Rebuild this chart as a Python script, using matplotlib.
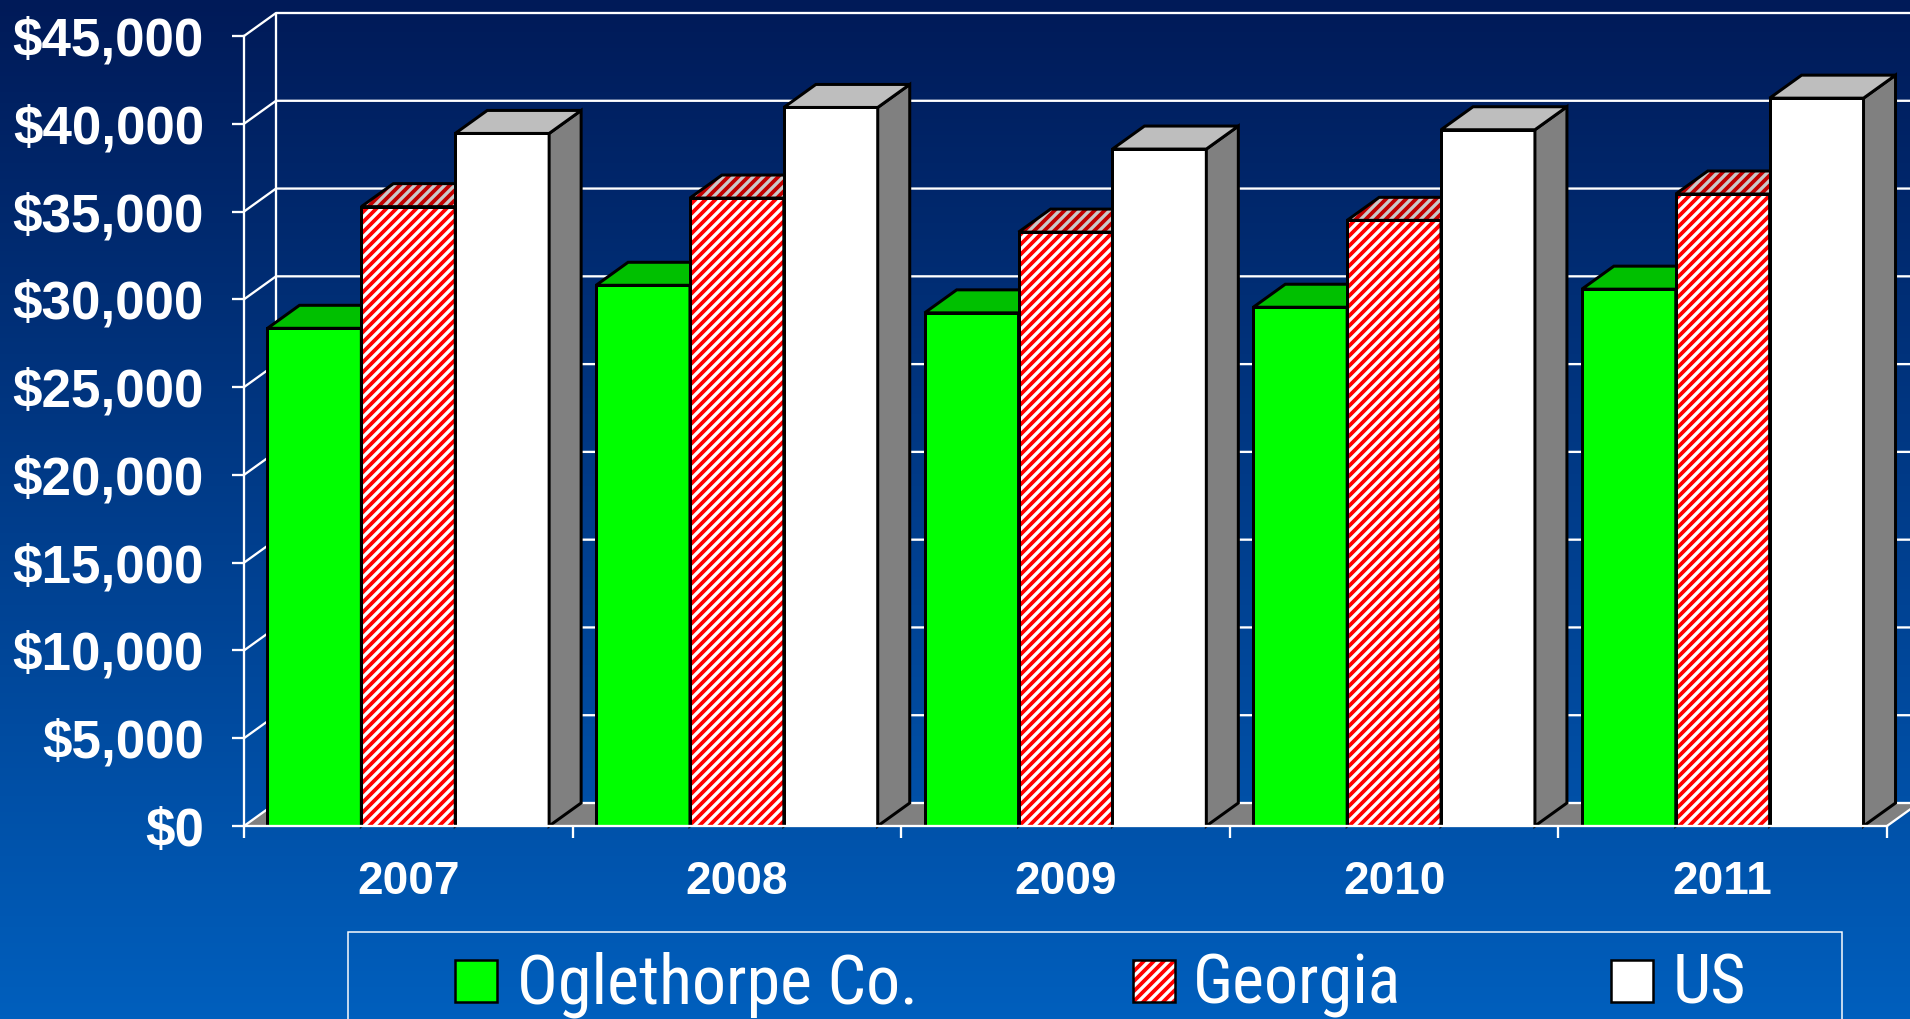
import matplotlib.pyplot as plt
import numpy as np
from matplotlib.patches import Polygon, Rectangle
from matplotlib.colors import LinearSegmentedColormap
from matplotlib.ticker import FuncFormatter
from matplotlib.font_manager import FontProperties, fontManager

# Per-capita income
years = ['2007', '2008', '2009', '2010', '2011']
series = ['Oglethorpe Co.', 'Georgia', 'US']
oglethorpe = [28350, 30800, 29230, 29550, 30580]
georgia = [35280, 35770, 33830, 34500, 36000]
us = [39450, 40930, 38560, 39660, 41460]
y_ticks = list(range(0, 45001, 5000))

W, H, DPI = 1910, 1019, 120
HATCH = '////'


def pt(px):
    # pixel size -> points at this dpi
    return px * 72 / DPI


def fig_xy(px, py):
    return px / W, 1 - py / H


# legend text in the original is a narrow face; use one if installed
def pick_legend_font():
    narrow = ('condensed', 'semi-condensed', 'extra-condensed', 'ultra-condensed')
    for fam in ['Liberation Sans Narrow', 'Roboto Condensed', 'Open Sans Condensed']:
        for f in fontManager.ttflist:
            if f.name == fam and f.weight in (400, 'normal', 'regular') and f.style == 'normal':
                return FontProperties(fname=f.fname)
    for fam in ['Liberation Sans', 'Roboto', 'Open Sans', 'Noto Sans', 'DejaVu Sans']:
        for f in fontManager.ttflist:
            if (f.name == fam and f.stretch in narrow and f.style == 'normal'
                    and f.weight in (400, 'normal', 'regular')):
                return FontProperties(fname=f.fname)
    return FontProperties(family='Liberation Sans')


plt.rcParams['font.family'] = ['Liberation Sans', 'DejaVu Sans']
plt.rcParams['font.weight'] = 'bold'
plt.rcParams['hatch.linewidth'] = pt(3.3)

fig = plt.figure(figsize=(W / DPI, H / DPI), dpi=DPI)

# background gradient, dark navy to blue
bg = fig.add_axes([0, 0, 1, 1], zorder=-10)
cmap = LinearSegmentedColormap.from_list('bg', ['#001A58', '#005FBD'])
bg.imshow(np.linspace(0, 1, 256).reshape(-1, 1), cmap=cmap, aspect='auto', extent=[0, 1, 0, 1])
bg.set_axis_off()

# front plane of the 3D box
left, right, top, bottom = 244, 1887, 36, 826
ax = fig.add_axes([left / W, 1 - bottom / H, (right - left) / W, (bottom - top) / H])
ax.set_facecolor('none')
x0, x1 = -0.5, len(years) - 0.5
ax.set_xlim(x0, x1)
ax.set_ylim(0, y_ticks[-1])

# depth offset of the back wall (32 px right, 23 px up)
DX = 32 * (x1 - x0) / (right - left)
DY = 23 * y_ticks[-1] / (bottom - top)

# floor
ax.add_patch(Polygon([(x0, 0), (x1, 0), (x1 + DX, DY), (x0 + DX, DY)],
                     facecolor='#808080', edgecolor='none', clip_on=False, zorder=0.5))

# side wall diagonals + back wall gridlines
line_kw = dict(color='white', lw=pt(2.3), clip_on=False, zorder=1, solid_capstyle='butt')
for v in y_ticks:
    ax.plot([x0, x0 + DX, x1 + DX], [v, v + DY, v + DY], **line_kw)
ax.plot([x0 + DX, x0 + DX], [DY, y_ticks[-1] + DY], **line_kw)
ax.plot([x1, x1 + DX], [0, DY], **line_kw)

# bars
x = np.arange(len(years))
n = len(series)
bw = 1 / (n + 0.5)
offsets = (np.arange(n) - (n - 1) / 2) * bw
values = [oglethorpe, georgia, us]
styles = [
    dict(face='#00FF00', top='#00C000', side='#008000', hatch=None, top_hatch=None),
    dict(face='#FF0000', top='#C00000', side='#800000', hatch='white', top_hatch='#C8C8C8'),
    dict(face='#FFFFFF', top='#BEBEBE', side='#808080', hatch=None, top_hatch=None),
]
edge_lw = pt(3)

for j, (vals, st) in enumerate(zip(values, styles)):
    z = 2 + j
    if st['hatch']:
        ax.bar(x + offsets[j], vals, bw, color=st['face'], edgecolor=st['hatch'],
               hatch=HATCH, lw=0, zorder=z)
        bars = ax.bar(x + offsets[j], vals, bw, fill=False, edgecolor='black', lw=edge_lw, zorder=z)
    else:
        bars = ax.bar(x + offsets[j], vals, bw, color=st['face'], edgecolor='black',
                      lw=edge_lw, zorder=z)
    for rect in bars:
        xl = rect.get_x()
        xr = xl + rect.get_width()
        h = rect.get_height()
        side = [(xr, 0), (xr + DX, DY), (xr + DX, h + DY), (xr, h)]
        top_face = [(xl, h), (xr, h), (xr + DX, h + DY), (xl + DX, h + DY)]
        ax.add_patch(Polygon(side, facecolor=st['side'], edgecolor='black', lw=edge_lw,
                             clip_on=False, zorder=z, joinstyle='miter'))
        if st['top_hatch']:
            ax.add_patch(Polygon(top_face, facecolor=st['top'], edgecolor=st['top_hatch'],
                                 hatch=HATCH, lw=0, clip_on=False, zorder=z))
            ax.add_patch(Polygon(top_face, fill=False, edgecolor='black', lw=edge_lw,
                                 clip_on=False, zorder=z, joinstyle='miter'))
        else:
            ax.add_patch(Polygon(top_face, facecolor=st['top'], edgecolor='black', lw=edge_lw,
                                 clip_on=False, zorder=z, joinstyle='miter'))

# axes, ticks, labels
for s in ['top', 'right']:
    ax.spines[s].set_visible(False)
for s in ['left', 'bottom']:
    ax.spines[s].set_color('white')
    ax.spines[s].set_linewidth(pt(2.3))
    ax.spines[s].set_zorder(10)

ax.set_yticks(y_ticks)
ax.yaxis.set_major_formatter(FuncFormatter(lambda v, p: f'${v:,.0f}'))
ax.tick_params(axis='y', colors='white', length=pt(12), width=pt(2.3), pad=pt(28),
               labelsize=pt(53))

ax.set_xticks(np.arange(len(years) + 1) - 0.5)
ax.set_xticklabels([])
ax.set_xticks(x, minor=True)
ax.set_xticklabels(years, minor=True)
ax.tick_params(axis='x', which='major', colors='white', length=pt(12), width=pt(2.3))
ax.tick_params(axis='x', which='minor', length=0, pad=pt(34), labelsize=pt(46),
               labelcolor='white')

# legend box (runs off the bottom edge, as in the original)
lx, ly = fig_xy(348, 1030)
fig.add_artist(Rectangle((lx, ly), (1842 - 348) / W, (1030 - 932) / H,
                         transform=fig.transFigure, fill=False, edgecolor='white', lw=pt(1.5)))
handle_x = [455, 1133, 1611]
text_x = [517, 1193, 1673]
legend_fp = pick_legend_font()

texts = []
for j, st in enumerate(styles):
    hx, hy = fig_xy(handle_x[j], 1002)
    if st['hatch']:
        fig.add_artist(Rectangle((hx, hy), 42 / W, 42 / H, transform=fig.transFigure,
                                 facecolor=st['face'], edgecolor=st['hatch'], hatch=HATCH, lw=0))
    fig.add_artist(Rectangle((hx, hy), 42 / W, 42 / H, transform=fig.transFigure,
                             facecolor=st['face'], edgecolor='black', lw=pt(2.5),
                             fill=not st['hatch']))
    tx, ty = fig_xy(text_x[j], 1003)
    texts.append(fig.text(tx, ty, series[j], color='white', fontproperties=legend_fp,
                          fontsize=pt(62), ha='left', va='baseline'))

# size the legend text so "Oglethorpe Co." spans ~411 px, capped at ~68 px em
renderer = fig.canvas.get_renderer()
w0 = texts[0].get_window_extent(renderer).width
size_px = min(62 * 411 / w0, 68)
for t in texts:
    t.set_fontsize(pt(size_px))

fig.savefig('out.png', dpi=DPI)
